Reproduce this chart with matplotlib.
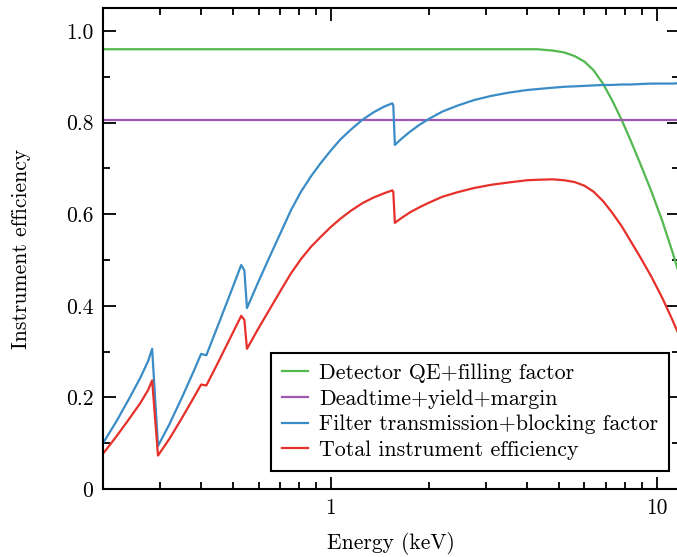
import matplotlib
matplotlib.use("Agg")
import matplotlib.pyplot as plt
from matplotlib.ticker import FixedLocator, NullFormatter

# energies (keV) and efficiency curves
energy = [0.2, 0.22, 0.24, 0.26, 0.275, 0.283,
          0.295, 0.32, 0.35, 0.38, 0.40, 0.415, 0.45, 0.49, 0.531, 0.543, 0.553,
          0.6, 0.65, 0.7, 0.755, 0.81, 0.87, 0.93, 1.0, 1.07, 1.15, 1.25, 1.35,
          1.45, 1.544, 1.555,
          1.572, 1.65, 1.75, 1.87, 2.0, 2.2, 2.45, 2.75, 3.1, 3.5, 4.0,
          4.3, 4.8, 5.2, 5.6, 6.0, 6.4, 6.85, 7.3, 7.8, 8.3, 8.9, 9.6, 10.4,
          11.2, 11.7]

detector_qe = [0.96] * 43 + [0.960, 0.957, 0.953, 0.945, 0.933, 0.914, 0.884,
                             0.848, 0.806, 0.762, 0.710, 0.652, 0.585, 0.515, 0.470]

deadtime = [0.806] * len(energy)

filter_trans = [0.100, 0.148, 0.196, 0.242, 0.279, 0.306,
                0.094, 0.142, 0.201, 0.258, 0.295, 0.292, 0.356, 0.424, 0.489, 0.477, 0.395,
                0.453, 0.508, 0.558, 0.609, 0.649, 0.683, 0.711, 0.739, 0.763, 0.784, 0.806,
                0.822, 0.834, 0.842, 0.837,
                0.751, 0.765, 0.780, 0.795, 0.808, 0.824, 0.837, 0.849, 0.858, 0.865, 0.871,
                0.873, 0.876, 0.878, 0.879, 0.880, 0.881, 0.882, 0.882, 0.883, 0.883, 0.884,
                0.885, 0.885, 0.885, 0.886]

total_eff = [0.077, 0.115, 0.152, 0.187, 0.216, 0.237,
             0.073, 0.110, 0.156, 0.200, 0.228, 0.226, 0.275, 0.328, 0.378, 0.369, 0.306,
             0.351, 0.393, 0.432, 0.471, 0.502, 0.529, 0.550, 0.572, 0.590, 0.607, 0.624,
             0.636, 0.645, 0.652, 0.648,
             0.581, 0.592, 0.604, 0.615, 0.625, 0.638, 0.648, 0.657, 0.664, 0.669, 0.674,
             0.675, 0.676, 0.674, 0.670, 0.662, 0.649, 0.628, 0.603, 0.574, 0.542, 0.506,
             0.465, 0.417, 0.367, 0.336]

labels = ["Detector QE+filling factor", "Deadtime+yield+margin",
          "Filter transmission+blocking factor", "Total instrument efficiency"]
colors = ["#52b84f", "#9e58b2", "#3a8cc6", "#e6302a"]

yticks = [0, 0.2, 0.4, 0.6, 0.8, 1.0]
ytick_labels = ["0", "0.2", "0.4", "0.6", "0.8", "1.0"]

plt.rcParams["font.family"] = "serif"
plt.rcParams["font.serif"] = ["cmr10"]
plt.rcParams["mathtext.fontset"] = "cm"
plt.rcParams["axes.formatter.use_mathtext"] = True
plt.rcParams["font.size"] = 15.5

fig = plt.figure(figsize=(6.77, 5.57), dpi=100)
ax = fig.add_axes([103 / 677, 68 / 557, 576 / 677, 481 / 557])

series = [detector_qe, deadtime, filter_trans, total_eff]
for ys, lab, col in zip(series, labels, colors):
    ax.plot(energy, ys, color=col, lw=1.6, label=lab)

ax.set_xscale("log")
ax.set_xlim(0.2, 11.7)
ax.set_ylim(0, 1.05)

ax.xaxis.set_major_locator(FixedLocator([1, 10]))
ax.set_xticklabels(["1", "10"])
ax.xaxis.set_minor_locator(FixedLocator([0.2, 0.3, 0.4, 0.5, 0.6, 0.7, 0.8, 0.9,
                                         2, 3, 4, 5, 6, 7, 8, 9]))
ax.xaxis.set_minor_formatter(NullFormatter())
ax.yaxis.set_major_locator(FixedLocator(yticks))
ax.set_yticklabels(ytick_labels)
ax.yaxis.set_minor_locator(FixedLocator([0.1, 0.3, 0.5, 0.7, 0.9]))

ax.tick_params(which="both", direction="in", top=True, right=True, width=1.3)
ax.tick_params(which="major", length=9, pad=7)
ax.tick_params(which="minor", length=5)
for sp in ax.spines.values():
    sp.set_linewidth(1.5)

ax.set_xlabel("Energy (keV)", labelpad=10)
ax.set_ylabel("Instrument efficiency", labelpad=25)

leg = ax.legend(loc="lower right", bbox_to_anchor=(0.9826, 0.0374),
                borderaxespad=0, fancybox=False, edgecolor="black",
                framealpha=1, handlelength=1.2, handletextpad=0.5,
                labelspacing=0.28, borderpad=0.5, fontsize=15.8)
leg.get_frame().set_linewidth(1.5)

fig.savefig("out.png", dpi=100)
